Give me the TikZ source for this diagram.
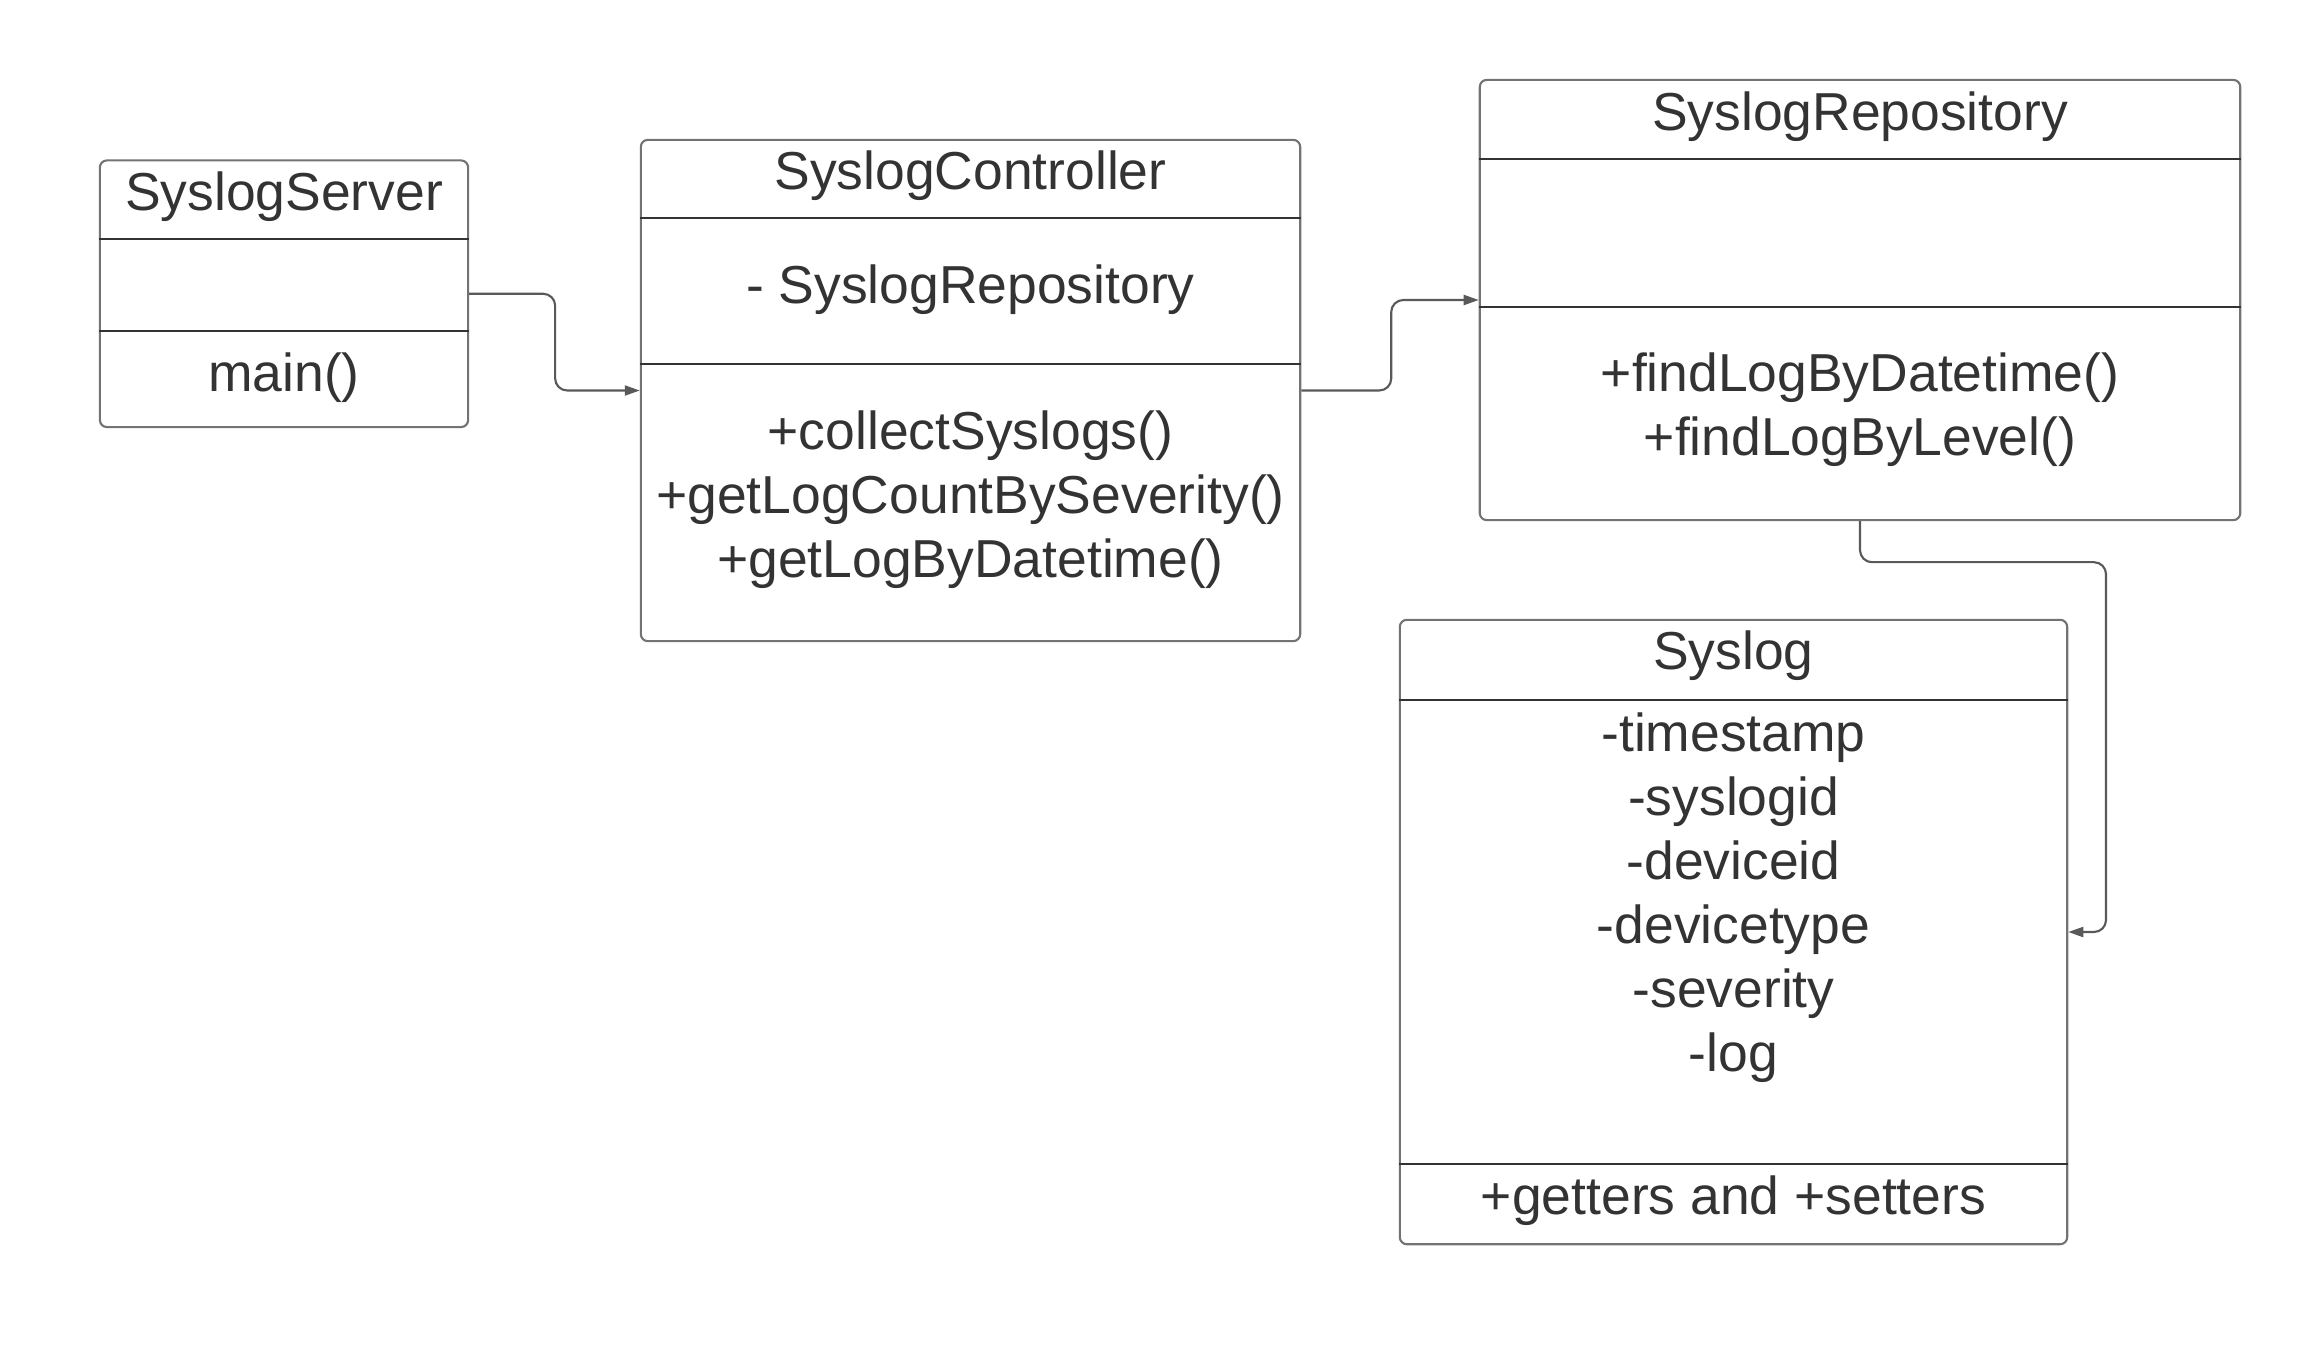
\documentclass[tikz,border=0pt]{standalone}
\usepackage{fontspec}
\setmainfont{Liberation Sans}
\usetikzlibrary{arrows.meta,calc}

\begin{document}
\begin{tikzpicture}[
  x=0.01cm,
  y=-0.01cm,
  font=\fontsize{15.2}{18.2}\selectfont,
  >={Triangle[length=0.15cm,width=0.1cm]},
  cls/.style={draw=black!55, line width=0.6pt, rounded corners=0.07cm, inner sep=0pt},
  sep/.style={draw=black!80, line width=0.6pt},
  txt/.style={text=black!80, align=center, inner sep=0pt},
  flow/.style={->, draw=black!65, line width=0.6pt, rounded corners=0.12cm}
]
  \useasboundingbox (0,0) rectangle (2309,1360);

  % class boxes
  \node[cls, minimum width=3.68cm, minimum height=2.665cm] (srv) at (284,293.75) {};
  \node[cls, minimum width=6.59cm, minimum height=5.01cm] (ctrl) at (970.5,390.5) {};
  \node[cls, minimum width=7.6cm, minimum height=4.4cm] (repo) at (1860,300) {};
  \node[cls, minimum width=6.67cm, minimum height=6.24cm] (slog) at (1733.5,932) {};

  % compartments
  \draw[sep] ($(srv.north west)+(0,80)$) -- ($(srv.north east)+(0,80)$);
  \draw[sep] ($(srv.north west)+(0,172)$) -- ($(srv.north east)+(0,172)$);
  \draw[sep] ($(ctrl.north west)+(0,79)$) -- ($(ctrl.north east)+(0,79)$);
  \draw[sep] ($(ctrl.north west)+(0,225)$) -- ($(ctrl.north east)+(0,225)$);
  \draw[sep] ($(repo.north west)+(0,80.5)$) -- ($(repo.north east)+(0,80.5)$);
  \draw[sep] ($(repo.north west)+(0,228)$) -- ($(repo.north east)+(0,228)$);
  \draw[sep] ($(slog.north west)+(0,81)$) -- ($(slog.north east)+(0,81)$);
  \draw[sep] ($(slog.north west)+(0,545)$) -- ($(slog.north east)+(0,545)$);

  % texts
  \node[txt] (srv-name) at (284,197) {SyslogServer};
  \node[txt] (srv-ops) at (284,378) {main()};

  \node[txt] (ctrl-name) at (970.5,176) {SyslogController};
  \node[txt] (ctrl-attr) at (970.5,290) {- SyslogRepository};
  \node[txt] (ctrl-ops) at (970.5,500) {+collectSyslogs()\\+getLogCountBySeverity()\\+getLogByDatetime()};

  \node[txt] (repo-name) at (1860,117) {SyslogRepository};
  \node[txt] (repo-ops) at (1860,410) {+findLogByDatetime()\\+findLogByLevel()};

  \node[txt] (slog-name) at (1733.5,656) {Syslog};
  \node[txt] (slog-attr) at (1733.5,898) {-timestamp\\-syslogid\\-deviceid\\-devicetype\\-severity\\-log};
  \node[txt] (slog-ops) at (1733.5,1201) {+getters and +setters};

  % associations
  \draw[flow] (srv.east) -- ++(86,0) |- (ctrl.west);
  \draw[flow] (ctrl.east) -- ++(90,0) |- (repo.west);
  \draw[flow] (repo.south) -- ++(0,41) -- ++(246,0) |- (slog.east);
\end{tikzpicture}
\end{document}
